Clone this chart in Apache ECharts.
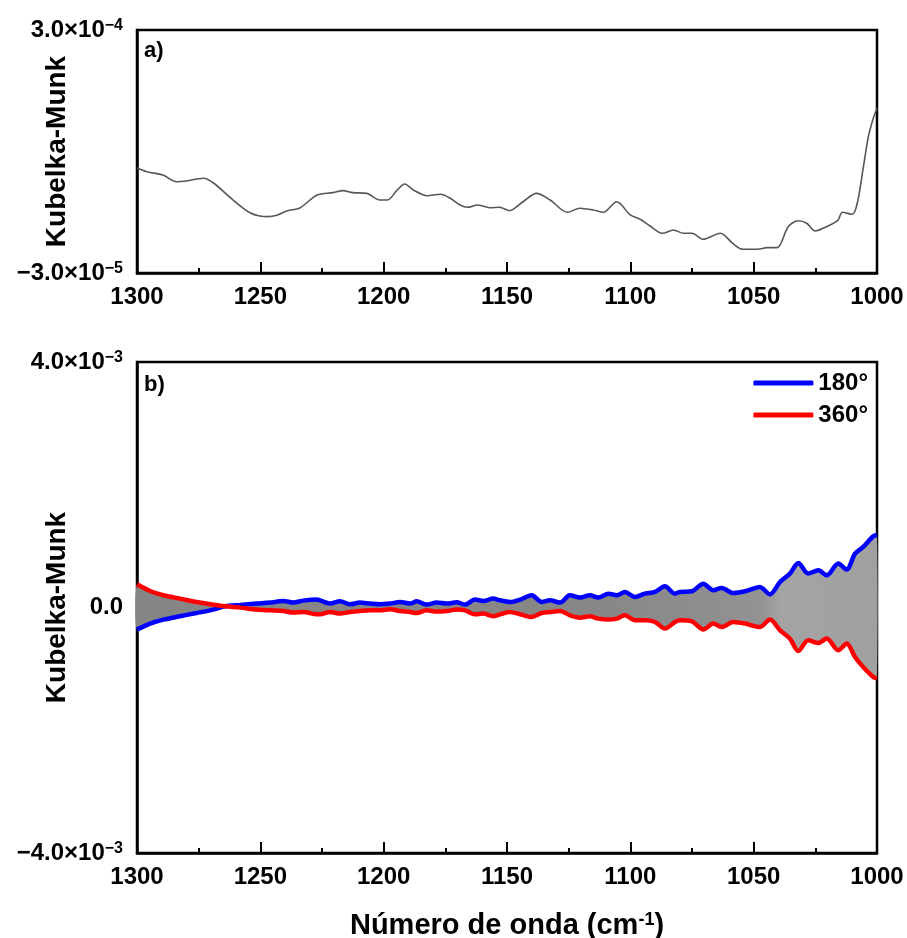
<!DOCTYPE html>
<html><head><meta charset="utf-8">
<script src="https://cdn.jsdelivr.net/npm/echarts@6/dist/echarts.min.js"></script>
<style>html,body{margin:0;padding:0;background:#fff}#c{width:907px;height:938px}</style>
</head><body><div id="c"></div>
<script>
// ---- Panel a) data ----
const topWavenumber = [1300,1296,1289.5,1284,1280,1273,1269,1261,1254,1247,1243,1239,1234,1227,1220.5,1216.5,1212.5,1207,1201.5,1198.5,1194.5,1191.5,1188,1182.5,1177,1173,1169,1166,1162,1157,1153,1149,1143.5,1138,1132.5,1125.5,1120.5,1115,1111,1105.5,1100,1096,1092,1087,1082.5,1078.5,1075,1070.5,1063.5,1058.5,1054.5,1048.5,1044.5,1040.5,1036,1032,1028.5,1025,1020.5,1016,1014,1010,1008,1005.5,1003.5,1001.5,1000];
const topKM = [11.30e-5,10.76e-5,10.31e-5,9.40e-5,9.49e-5,9.86e-5,9.22e-5,6.91e-5,5.15e-5,4.65e-5,4.88e-5,5.46e-5,5.83e-5,7.59e-5,7.91e-5,8.18e-5,7.91e-5,7.82e-5,6.91e-5,6.91e-5,8.27e-5,9.09e-5,8.27e-5,7.50e-5,7.69e-5,7.15e-5,6.23e-5,5.92e-5,6.23e-5,5.87e-5,5.92e-5,5.46e-5,6.68e-5,7.82e-5,6.91e-5,5.24e-5,5.79e-5,5.56e-5,5.24e-5,6.68e-5,4.88e-5,4.29e-5,3.38e-5,2.39e-5,2.84e-5,2.39e-5,2.39e-5,1.58e-5,2.39e-5,1.03e-5,0.22e-5,0.22e-5,0.44e-5,0.44e-5,3.29e-5,4.10e-5,3.75e-5,2.70e-5,3.29e-5,4.10e-5,5.24e-5,4.97e-5,6.47e-5,11.44e-5,15.51e-5,18.01e-5,19.37e-5];

// ---- Panel b) data ----
const bottomWavenumber = [1300,1294.7,1289.3,1282.6,1275.8,1269.1,1264.3,1258.2,1251.5,1246.1,1240.7,1236.6,1232.6,1227.1,1225.8,1221.8,1217.7,1213.6,1209.6,1205.5,1201.5,1197.4,1193.4,1189.3,1186.6,1182.6,1178.5,1174.4,1170.4,1167.0,1163.0,1159.6,1155.6,1152.8,1148.8,1144.7,1140.0,1135.9,1132.6,1128.5,1124.5,1120.4,1116.4,1113.0,1108.9,1105.5,1102.2,1098.1,1094.1,1090.0,1086.0,1081.9,1079.9,1075.1,1070.4,1066.4,1063.0,1058.3,1053.5,1047.5,1043.4,1039.3,1035.3,1031.9,1027.9,1023.8,1020.4,1015.7,1012.3,1008.9,1005.6,1001.5,1000];
const km180 = [-0.360e-3,-0.262e-3,-0.197e-3,-0.143e-3,-0.090e-3,-0.034e-3,0.020e-3,0.041e-3,0.064e-3,0.080e-3,0.106e-3,0.080e-3,0.112e-3,0.129e-3,0.117e-3,0.064e-3,0.101e-3,0.052e-3,0.080e-3,0.064e-3,0.052e-3,0.064e-3,0.090e-3,0.064e-3,0.101e-3,0.047e-3,0.080e-3,0.064e-3,0.085e-3,0.047e-3,0.129e-3,0.106e-3,0.145e-3,0.117e-3,0.090e-3,0.129e-3,0.199e-3,0.090e-3,0.117e-3,0.080e-3,0.199e-3,0.161e-3,0.199e-3,0.161e-3,0.226e-3,0.199e-3,0.253e-3,0.171e-3,0.226e-3,0.253e-3,0.345e-3,0.226e-3,0.253e-3,0.264e-3,0.389e-3,0.280e-3,0.318e-3,0.236e-3,0.264e-3,0.334e-3,0.215e-3,0.415e-3,0.552e-3,0.725e-3,0.552e-3,0.606e-3,0.525e-3,0.715e-3,0.618e-3,0.878e-3,0.986e-3,1.160e-3,1.176e-3];
const km360 = [0.378e-3,0.269e-3,0.199e-3,0.145e-3,0.090e-3,0.047e-3,0.020e-3,-0.002e-3,-0.034e-3,-0.046e-3,-0.057e-3,-0.083e-3,-0.073e-3,-0.111e-3,-0.111e-3,-0.073e-3,-0.099e-3,-0.073e-3,-0.057e-3,-0.046e-3,-0.046e-3,-0.029e-3,-0.057e-3,-0.073e-3,-0.090e-3,-0.046e-3,-0.067e-3,-0.057e-3,-0.034e-3,-0.046e-3,-0.111e-3,-0.099e-3,-0.143e-3,-0.111e-3,-0.073e-3,-0.111e-3,-0.155e-3,-0.090e-3,-0.073e-3,-0.057e-3,-0.127e-3,-0.165e-3,-0.143e-3,-0.181e-3,-0.197e-3,-0.181e-3,-0.127e-3,-0.209e-3,-0.209e-3,-0.236e-3,-0.344e-3,-0.236e-3,-0.209e-3,-0.225e-3,-0.360e-3,-0.262e-3,-0.318e-3,-0.236e-3,-0.262e-3,-0.318e-3,-0.197e-3,-0.371e-3,-0.507e-3,-0.709e-3,-0.534e-3,-0.578e-3,-0.507e-3,-0.697e-3,-0.588e-3,-0.807e-3,-0.969e-3,-1.132e-3,-1.154e-3];

// ---- Axis ticks / labels ----
const xMin = 1000, xMax = 1300, xInterval = 50;
const topYTickValues = [-3.0e-5, 3.0e-4];
const topYTickMantissa = ['−3.0×10', '3.0×10'];
const topYTickExp = ['−5', '−4'];
const bottomYTickValues = [-4.0e-3, 0, 4.0e-3];
const bottomYTickMantissa = ['−4.0×10', '0.0', '4.0×10'];
const bottomYTickExp = ['−3', '', '−3'];
const legendNames = ['180°', '360°'];
const yName = 'Kubelka-Munk';
const panelLabels = ['a)', 'b)'];

const FONT = "'Liberation Sans', Arial, Helvetica, sans-serif";

function pairs(xs, ys) { return xs.map((x, i) => [x, ys[i]]); }

function yFormatter(vals, mant, exps) {
  const span = Math.abs(vals[vals.length - 1] - vals[0]);
  return function (v) {
    for (let i = 0; i < vals.length; i++) {
      if (Math.abs(v - vals[i]) < span * 1e-6) {
        return exps[i] ? '{m|' + mant[i] + '}{s|' + exps[i] + '}' : '{m|' + mant[i] + '}';
      }
    }
    return '';
  };
}

const yRich = {
  m: { fontSize: 24, fontWeight: 'bold', color: '#000', fontFamily: FONT },
  s: { fontSize: 16, fontWeight: 'bold', color: '#000', fontFamily: FONT, verticalAlign: 'top' }
};

function xAxisCfg(gridIndex, withName) {
  const cfg = {
    type: 'value', gridIndex: gridIndex, min: xMin, max: xMax, interval: xInterval, inverse: true,
    axisLine: { show: true, onZero: false, lineStyle: { color: '#000', width: 2.5 } },
    axisTick: { show: true, inside: true, length: 11, lineStyle: { color: '#000', width: 2 } },
    minorTick: { show: true, splitNumber: 2, length: 5, lineStyle: { color: '#000', width: 2 } },
    splitLine: { show: false }, minorSplitLine: { show: false },
    axisLabel: { fontSize: 24, fontWeight: 'bold', color: '#000', fontFamily: FONT, margin: 12,
      showMinLabel: true, showMaxLabel: true, formatter: v => String(v) }
  };
  if (withName) {
    cfg.name = '{a|Número de onda (cm}{s|-1}{a|)}';
    cfg.nameLocation = 'middle';
    cfg.nameGap = 58;
    cfg.nameMoveOverlap = false;
    cfg.nameTextStyle = { rich: {
      a: { fontSize: 29, fontWeight: 'bold', color: '#000', fontFamily: FONT },
      s: { fontSize: 18, fontWeight: 'bold', color: '#000', fontFamily: FONT, verticalAlign: 'top' }
    } };
  }
  return cfg;
}

function yAxisCfg(gridIndex, min, max, interval, fmt) {
  return {
    type: 'value', gridIndex: gridIndex, min: min, max: max, interval: interval,
    name: yName, nameLocation: 'middle', nameRotate: 90, nameGap: 66, nameMoveOverlap: false,
    nameTextStyle: { fontSize: 28, fontWeight: 'bold', color: '#000', fontFamily: FONT },
    axisLine: { show: true, onZero: false, lineStyle: { color: '#000', width: 2.5 } },
    axisTick: { show: false },
    splitLine: { show: false },
    axisLabel: { margin: 14, formatter: fmt, rich: yRich, showMinLabel: true, showMaxLabel: true }
  };
}

// Gray band of intermediate spectra, drawn as one polygon between the 180° and 360° curves
function renderBand(params, api) {
  if (params.dataIndex !== 0) return null;
  const upper = bottomWavenumber.map((x, i) => api.coord([x, km180[i]]));
  const lower = bottomWavenumber.map((x, i) => api.coord([x, km360[i]])).reverse();
  return {
    type: 'polygon',
    shape: { points: upper.concat(lower), smooth: 0.25 },
    style: {
      fill: new echarts.graphic.LinearGradient(0, 0, 1, 0, [
        { offset: 0, color: '#858585' },
        { offset: 0.62, color: '#878787' },
        { offset: 0.84, color: '#929292' },
        { offset: 0.87, color: '#a4a4a4' },
        { offset: 1, color: '#a0a0a0' }
      ]),
      stroke: null
    },
    silent: true
  };
}

const chart = echarts.init(document.getElementById('c'), null, { renderer: 'canvas' });
chart.setOption({
  backgroundColor: '#fff',
  animation: false,
  title: [
    { text: panelLabels[0], left: 139, top: 35, textStyle: { fontSize: 22, fontWeight: 'bold', color: '#000', fontFamily: FONT } },
    { text: panelLabels[1], left: 139, top: 369, textStyle: { fontSize: 22, fontWeight: 'bold', color: '#000', fontFamily: FONT } }
  ],
  legend: {
    data: legendNames, orient: 'vertical', right: 34, top: 366,
    icon: 'roundRect', itemWidth: 60, itemHeight: 5, itemGap: 8,
    textStyle: { fontSize: 24, fontWeight: 'bold', color: '#000', fontFamily: FONT }
  },
  grid: [
    { left: 137, right: 30, top: 30, height: 243, outerBoundsMode: 'none', containLabel: false,
      show: true, borderColor: '#000', borderWidth: 2.5, backgroundColor: 'transparent' },
    { left: 137, right: 30, top: 362, height: 491, outerBoundsMode: 'none', containLabel: false,
      show: true, borderColor: '#000', borderWidth: 2.5, backgroundColor: 'transparent' }
  ],
  xAxis: [xAxisCfg(0, false), xAxisCfg(1, true)],
  yAxis: [
    yAxisCfg(0, topYTickValues[0], topYTickValues[1], topYTickValues[1] - topYTickValues[0], yFormatter(topYTickValues, topYTickMantissa, topYTickExp)),
    yAxisCfg(1, bottomYTickValues[0], bottomYTickValues[2], bottomYTickValues[2] - bottomYTickValues[1], yFormatter(bottomYTickValues, bottomYTickMantissa, bottomYTickExp))
  ],
  series: [
    { name: 'a', type: 'line', xAxisIndex: 0, yAxisIndex: 0, data: pairs(topWavenumber, topKM),
      showSymbol: false, symbol: 'none', smooth: 0.3, lineStyle: { color: '#575757', width: 1.6 } },
    { name: 'band', type: 'custom', xAxisIndex: 1, yAxisIndex: 1, z: 1, silent: true,
      data: bottomWavenumber.map((x, i) => [x, km180[i], km360[i]]),
      encode: { x: 0, y: [1, 2] },
      renderItem: renderBand },
    { name: legendNames[0], type: 'line', xAxisIndex: 1, yAxisIndex: 1, data: pairs(bottomWavenumber, km180),
      symbol: 'none', smooth: 0.3, color: '#0000ff', lineStyle: { color: '#0000ff', width: 4.5 }, z: 3 },
    { name: legendNames[1], type: 'line', xAxisIndex: 1, yAxisIndex: 1, data: pairs(bottomWavenumber, km360),
      symbol: 'none', smooth: 0.3, color: '#ff0000', lineStyle: { color: '#ff0000', width: 4.5 }, z: 3 }
  ]
});
</script>
</body></html>
